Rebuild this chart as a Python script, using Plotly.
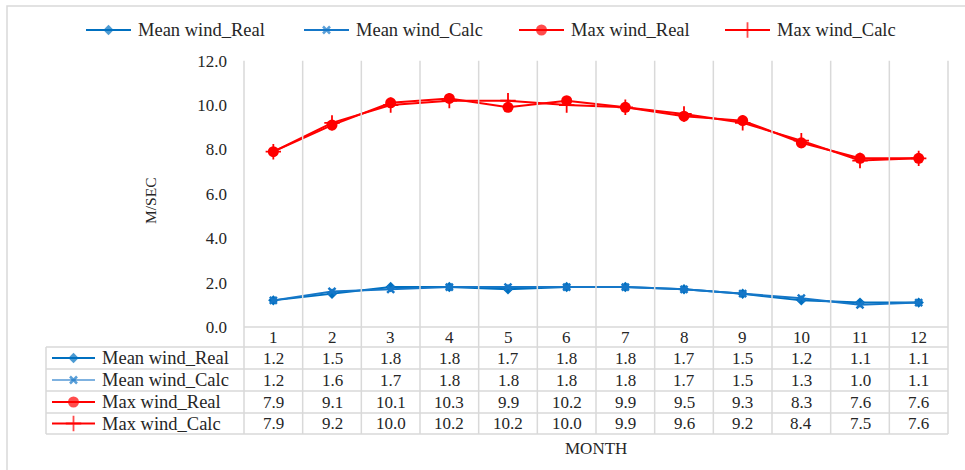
import plotly.graph_objects as go

# ---- data ----
months = [1, 2, 3, 4, 5, 6, 7, 8, 9, 10, 11, 12]
month_labels = ["1", "2", "3", "4", "5", "6", "7", "8", "9", "10", "11", "12"]
series_names = ["Mean wind_Real", "Mean wind_Calc", "Max wind_Real", "Max wind_Calc"]
mean_real = [1.2, 1.5, 1.8, 1.8, 1.7, 1.8, 1.8, 1.7, 1.5, 1.2, 1.1, 1.1]
mean_calc = [1.2, 1.6, 1.7, 1.8, 1.8, 1.8, 1.8, 1.7, 1.5, 1.3, 1.0, 1.1]
max_real = [7.9, 9.1, 10.1, 10.3, 9.9, 10.2, 9.9, 9.5, 9.3, 8.3, 7.6, 7.6]
max_calc = [7.9, 9.2, 10.0, 10.2, 10.2, 10.0, 9.9, 9.6, 9.2, 8.4, 7.5, 7.6]
y_ticks = [0, 2, 4, 6, 8, 10, 12]

series_values = [mean_real, mean_calc, max_real, max_calc]

# ---- styles ----
W, H = 965, 470
FONT = "Liberation Serif, Times New Roman, serif"
BLUE = "#0070C0"
BLUE_C = "#1577C8"
BLUE_LIGHT = "#7FB2E0"
RED = "#FF0000"
GRID = "#D9D9D9"
TXT = "#262626"
styles = [
    dict(color=BLUE, symbol="diamond", size=8, lw=0, keyline=BLUE),
    dict(color=BLUE_C, symbol="x-thin", size=7, lw=2.5, keyline=BLUE_LIGHT),
    dict(color=RED, symbol="circle", size=11, lw=0, keyline=RED),
    dict(color=RED, symbol="cross-thin", size=11, lw=1.8, keyline=RED),
]

# layout geometry (pixels)
PL, PR, PT, PB = 244, 948, 60.7, 327
TL = 46
row_lines = [347, 369, 391, 413, 434]
row_centers = [358, 380, 402, 423.5]
header_center = 337

fig = go.Figure()

def mk(st, size):
    return dict(symbol=st["symbol"], size=size, color=st["color"],
                line=dict(color=st["color"], width=st["lw"]))

# main data traces
for name, vals, st in zip(series_names, series_values, styles):
    fig.add_trace(go.Scatter(
        x=months, y=vals, name=name, mode="lines+markers",
        line=dict(color=st["color"], width=2),
        marker=mk(st, st["size"]),
        showlegend=False, xaxis="x", yaxis="y",
    ))

shapes = []
annotations = []

def hline(y, x0, x1):
    shapes.append(dict(type="line", xref="x2", yref="y2", x0=x0, x1=x1, y0=y, y1=y,
                       line=dict(color=GRID, width=1.5), layer="below"))

def vline(x, y0, y1):
    shapes.append(dict(type="line", xref="x2", yref="y2", x0=x, x1=x, y0=y0, y1=y1,
                       line=dict(color=GRID, width=1.5), layer="below"))

# outer frame
shapes.append(dict(type="rect", xref="x2", yref="y2", x0=7, x1=W + 20, y0=6, y1=H + 20,
                   line=dict(color=GRID, width=1.5), fillcolor="rgba(0,0,0,0)", layer="below"))

# vertical category boundaries (plot + table)
n = len(months)
cw = (PR - PL) / n
for k in range(n + 1):
    vline(PL + k * cw, PT, row_lines[-1])
vline(TL, row_lines[0], row_lines[-1])
# axis line and table rows
hline(PB, PL, PR)
for y in row_lines:
    hline(y, TL, PR)

# header labels (months)
for m, lab in zip(months, month_labels):
    annotations.append(dict(x=m, y=header_center, xref="x", yref="y2", text=lab,
                            showarrow=False, font=dict(family=FONT, size=17, color=TXT)))

# table values + table legend keys
for r, (name, vals, st) in enumerate(zip(series_names, series_values, styles)):
    yc = row_centers[r]
    for m, v in zip(months, vals):
        annotations.append(dict(x=m, y=yc, xref="x", yref="y2", text=f"{v:.1f}",
                                showarrow=False, font=dict(family=FONT, size=17, color=TXT)))
    annotations.append(dict(x=100, y=yc, xref="x2", yref="y2", text=name, xanchor="left",
                            showarrow=False, font=dict(family=FONT, size=18.5, color=TXT)))
    fig.add_trace(go.Scatter(
        x=[52, 73.5, 95], y=[yc, yc, yc], mode="lines+markers", xaxis="x2", yaxis="y2",
        line=dict(color=st["keyline"], width=2),
        marker=mk(st, [0, st["size"], 0]),
        showlegend=False, hoverinfo="skip",
    ))

# top legend
leg_x = [86, 304, 519, 725]
leg_y = 30
for name, st, x0 in zip(series_names, styles, leg_x):
    fig.add_trace(go.Scatter(
        x=[x0, x0 + 22.5, x0 + 45], y=[leg_y] * 3, mode="lines+markers", xaxis="x2", yaxis="y2",
        line=dict(color=st["color"], width=2),
        marker=mk(st, [0, st["size"], 0]),
        showlegend=False, hoverinfo="skip",
    ))
    annotations.append(dict(x=x0 + 50, y=leg_y, xref="x2", yref="y2", text=name, xanchor="left",
                            showarrow=False, font=dict(family=FONT, size=18.5, color=TXT)))

# axis titles
annotations.append(dict(x=150, y=201, xref="x2", yref="y2", text="M/SEC", textangle=-90,
                        showarrow=False, font=dict(family=FONT, size=15.5, color=TXT)))
annotations.append(dict(x=596, y=448, xref="x2", yref="y2", text="MONTH",
                        showarrow=False, font=dict(family=FONT, size=17, color=TXT)))

fig.update_layout(
    width=W, height=H, autosize=False,
    margin=dict(l=0, r=0, t=0, b=0, pad=0, autoexpand=False),
    paper_bgcolor="white", plot_bgcolor="rgba(0,0,0,0)",
    showlegend=False,
    xaxis=dict(domain=[PL / W, PR / W], range=[0.5, n + 0.5], showticklabels=False,
               showgrid=False, zeroline=False, showline=False, ticks="", anchor="y",
               automargin=False, fixedrange=True),
    yaxis=dict(domain=[(H - PB) / H, (H - PT) / H], range=[0, 12], tickvals=y_ticks,
               tickformat=".1f", showgrid=False, zeroline=False, showline=False, ticks="",
               ticklabelstandoff=16, tickfont=dict(family=FONT, size=17, color=TXT),
               anchor="x", automargin=False, fixedrange=True),
    xaxis2=dict(domain=[0, 1], range=[0, W], visible=False, anchor="y2",
                automargin=False, fixedrange=True),
    yaxis2=dict(domain=[0, 1], range=[H, 0], visible=False, anchor="x2",
                automargin=False, fixedrange=True),
    shapes=shapes,
    annotations=annotations,
)

fig.write_html(
    "out.html",
    config={"displayModeBar": False},
    post_script="document.body.style.margin='0';document.body.style.padding='0';document.body.style.overflow='hidden';",
)
